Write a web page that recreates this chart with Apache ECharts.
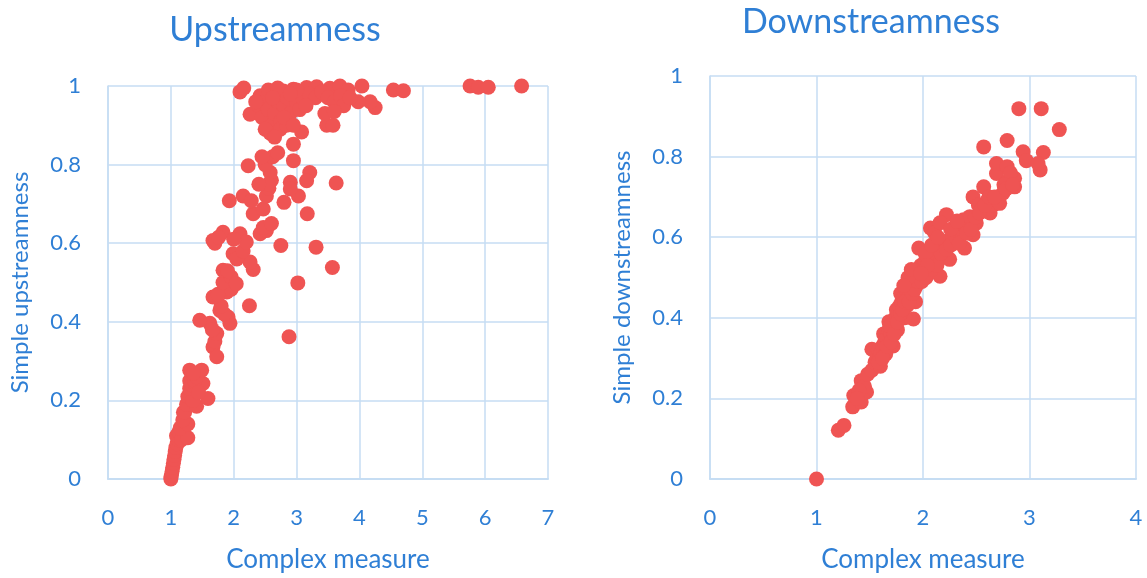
<!DOCTYPE html>
<html>
<head>
<meta charset="utf-8">
<title>Upstreamness and Downstreamness</title>
<script src="https://cdn.jsdelivr.net/npm/echarts@6/dist/echarts.min.js"></script>
<style>
  html, body { margin: 0; padding: 0; background: #ffffff; }
  #chart { width: 1147px; height: 578px; }
</style>
</head>
<body>
<div id="chart"></div>
<script>
// Upstreamness: complex measure (x) vs simple upstreamness (y)
const upstreamPoints = [
  [1.00,0.000],[1.00,0.005],[1.01,0.010],[1.02,0.020],[1.03,0.030],[1.04,0.040],[1.05,0.050],
  [1.06,0.060],[1.07,0.070],[1.08,0.080],[1.10,0.090],[1.12,0.100],[1.09,0.110],[1.13,0.120],
  [1.17,0.100],[1.27,0.105],[1.15,0.130],[1.27,0.140],[1.19,0.150],[1.20,0.170],[1.22,0.170],
  [1.25,0.190],[1.41,0.185],[1.27,0.210],[1.35,0.200],[1.59,0.205],[1.30,0.230],[1.33,0.240],
  [1.51,0.243],[1.30,0.250],[1.38,0.250],[1.41,0.260],[1.30,0.277],[1.49,0.277],[1.44,0.220],
  [1.36,0.270],
  [1.67,0.336],[1.73,0.311],[1.70,0.350],[1.73,0.370],[1.62,0.396],[1.46,0.404],[1.66,0.380],
  [1.78,0.429],[1.91,0.412],[1.94,0.396],[1.85,0.420],[1.80,0.440],[2.25,0.441],[1.67,0.463],
  [1.89,0.476],[1.96,0.483],[1.75,0.470],[1.83,0.500],[1.83,0.531],[1.96,0.514],[2.04,0.497],
  [1.90,0.530],[2.31,0.533],[2.26,0.552],[1.99,0.573],[2.05,0.560],[2.15,0.580],[1.67,0.607],
  [1.83,0.628],[2.10,0.624],[2.20,0.603],[1.70,0.600],[1.76,0.615],[2.00,0.610],[2.42,0.624],
  [2.52,0.632],[2.47,0.640],[2.60,0.650],[2.75,0.594],[3.31,0.590],[3.57,0.538],[3.02,0.499],
  [2.88,0.362],
  [2.31,0.675],[2.47,0.687],[3.17,0.675],[1.93,0.708],[2.15,0.720],[2.28,0.708],[2.80,0.704],
  [3.03,0.720],[2.90,0.755],[2.90,0.738],[3.63,0.753],[3.21,0.780],[3.16,0.759],[2.23,0.797],
  [2.95,0.810],[2.95,0.852],[2.52,0.720],[2.56,0.740],[2.60,0.760],[2.58,0.780],[2.50,0.800],
  [2.62,0.820],[2.45,0.820],[2.70,0.830],[2.55,0.750],[2.40,0.750],[3.08,0.883],[3.48,0.900],
  [3.58,0.900],
  [2.10,0.985],[2.16,0.995],[2.26,0.928],[2.42,0.975],[2.58,0.979],[2.79,0.987],[2.95,0.992],
  [3.16,0.996],[3.32,0.998],[3.53,0.994],[3.69,1.000],[3.82,0.990],[4.04,1.000],[4.54,0.990],
  [4.70,0.988],[5.76,1.000],[5.89,0.997],[6.05,0.997],[6.58,1.000],[4.25,0.945],[4.17,0.960],
  [3.98,0.960],
  [2.40,0.950],[2.45,0.920],[2.50,0.960],[2.55,0.940],[2.60,0.900],[2.65,0.930],[2.70,0.960],
  [2.75,0.910],[2.80,0.950],[2.85,0.970],[2.90,0.930],[3.00,0.960],[3.05,0.940],[3.10,0.970],
  [3.20,0.980],[3.30,0.970],[3.40,0.985],[3.50,0.970],[3.60,0.960],[3.70,0.975],[3.75,0.950],
  [3.85,0.970],[3.45,0.930],[3.60,0.935],[2.58,0.880],[2.74,0.890],[2.84,0.900],[2.50,0.890],
  [2.65,0.870],[2.55,0.990],[2.70,0.995],[3.00,0.990],[2.35,0.960],[2.62,0.970],[2.90,0.980],
  [3.15,0.950],[2.80,0.920],[2.95,0.900]
];

// Downstreamness: complex measure (x) vs simple downstreamness (y)
const downstreamPoints = [
  [1.00,0.000],[1.205,0.121],[1.258,0.133],[1.34,0.179],[1.35,0.207],[1.42,0.191],[1.47,0.216],
  [1.42,0.244],[1.45,0.230],[1.52,0.322],[1.40,0.220],[1.38,0.200],
  [1.48,0.260],[1.52,0.270],[1.55,0.290],[1.57,0.300],[1.58,0.320],[1.60,0.310],[1.62,0.330],
  [1.64,0.340],[1.63,0.360],[1.66,0.350],[1.68,0.370],[1.70,0.360],[1.68,0.390],[1.72,0.380],
  [1.74,0.400],[1.75,0.420],[1.77,0.410],[1.78,0.430],[1.80,0.440],[1.79,0.460],[1.82,0.450],
  [1.84,0.470],[1.85,0.430],[1.86,0.480],[1.88,0.460],[1.88,0.500],[1.90,0.490],[1.91,0.397],
  [1.92,0.510],[1.94,0.480],[1.95,0.520],[1.97,0.500],[1.98,0.530],[2.00,0.510],[2.02,0.540],
  [2.05,0.520],[2.06,0.550],[2.10,0.540],[2.16,0.503],[2.12,0.560],[2.15,0.570],[2.18,0.550],
  [2.20,0.580],[2.25,0.545],[2.22,0.590],[2.28,0.600],[2.30,0.590],[2.33,0.610],[2.39,0.573],
  [2.36,0.620],[2.40,0.630],[2.47,0.606],[2.43,0.640],[2.38,0.643],[2.44,0.651],[2.50,0.635],
  [2.47,0.700],[2.52,0.680],[2.57,0.725],[2.55,0.670],[2.60,0.690],[2.63,0.660],[2.66,0.680],
  [2.70,0.700],[2.72,0.684],[2.75,0.709],[2.69,0.758],[2.69,0.783],[2.79,0.775],[2.86,0.746],
  [2.86,0.725],[2.80,0.740],[2.82,0.760],[2.57,0.824],[2.79,0.840],[2.90,0.919],[3.11,0.919],
  [3.28,0.867],[2.94,0.812],[3.13,0.810],[2.97,0.790],[3.10,0.767],[3.08,0.783],
  [1.96,0.573],[2.07,0.623],[2.11,0.611],[2.22,0.656],[2.16,0.636],[1.72,0.330],[1.60,0.280],
  [1.76,0.370],[1.83,0.400],[1.65,0.310],[1.93,0.440],
  [1.58,0.290],[1.62,0.300],[1.66,0.330],[1.70,0.340],[1.69,0.380],[1.73,0.360],[1.76,0.390],
  [1.79,0.410],[1.81,0.420],[1.83,0.440],[1.87,0.440],[1.90,0.460],[1.92,0.470],[1.95,0.490],
  [1.99,0.490],[2.03,0.500],[2.08,0.520],[2.13,0.530],[2.17,0.560],[2.22,0.570],[2.26,0.580],
  [2.31,0.600],[2.34,0.585],[2.41,0.610],[2.45,0.620],[2.49,0.650],[2.53,0.660],[2.58,0.680],
  [2.62,0.700],[2.67,0.700],[2.76,0.730],[2.78,0.720],[2.84,0.730],[1.86,0.500],[1.82,0.480],
  [1.89,0.520],[2.02,0.560],[2.08,0.580],[2.14,0.600],[2.04,0.530],[1.98,0.510],[2.26,0.620],
  [2.32,0.640]
];

const titles = ['Upstreamness', 'Downstreamness'];
const xAxisName = 'Complex measure';
const yAxisNames = ['Simple upstreamness', 'Simple downstreamness'];
const xMax = [7, 4];

const textBlue = '#2f7fd5';
const gridBlue = '#c6ddf3';
const dotRed = '#ef5453';
const font = 'Lato, "Open Sans", sans-serif';

const chart = echarts.init(document.getElementById('chart'), null, { renderer: 'canvas' });

function xAxisFor(i) {
  return {
    gridIndex: i, type: 'value', min: 0, max: xMax[i], interval: 1,
    name: xAxisName, nameLocation: 'middle', nameGap: 68,
    nameTextStyle: { color: textBlue, fontSize: 26, fontFamily: font },
    axisLine: { show: true, lineStyle: { color: gridBlue, width: 2 } },
    axisTick: { show: false },
    axisLabel: { color: textBlue, fontSize: 22, fontFamily: font, margin: 28 },
    splitLine: { show: true, lineStyle: { color: gridBlue, width: 1.5 } }
  };
}
function yAxisFor(i) {
  return {
    gridIndex: i, type: 'value', min: 0, max: 1, interval: 0.2,
    name: yAxisNames[i], nameLocation: 'middle', nameGap: 76, nameRotate: 90,
    nameTextStyle: { color: textBlue, fontSize: 24, fontFamily: font },
    axisLine: { show: true, lineStyle: { color: gridBlue, width: 1.5 } },
    axisTick: { show: false },
    axisLabel: { color: textBlue, fontSize: 22, fontFamily: font, margin: 27 },
    splitLine: { show: true, lineStyle: { color: gridBlue, width: 1.5 } }
  };
}

chart.setOption({
  animation: false,
  backgroundColor: '#ffffff',
  title: [
    { text: titles[0], left: 270, top: 8, textAlign: 'center',
      textStyle: { color: textBlue, fontSize: 34, fontWeight: 'normal', fontFamily: font } },
    { text: titles[1], left: 866, top: 0, textAlign: 'center',
      textStyle: { color: textBlue, fontSize: 34, fontWeight: 'normal', fontFamily: font } }
  ],
  grid: [
    { left: 108, top: 86, width: 440, height: 393 },
    { left: 710, top: 76, width: 426, height: 405 }
  ],
  xAxis: [xAxisFor(0), xAxisFor(1)],
  yAxis: [yAxisFor(0), yAxisFor(1)],
  series: [
    { type: 'scatter', xAxisIndex: 0, yAxisIndex: 0, data: upstreamPoints,
      symbolSize: 15, itemStyle: { color: dotRed, opacity: 1 } },
    { type: 'scatter', xAxisIndex: 1, yAxisIndex: 1, data: downstreamPoints,
      symbolSize: 15, itemStyle: { color: dotRed, opacity: 1 } }
  ]
});
</script>
</body>
</html>
